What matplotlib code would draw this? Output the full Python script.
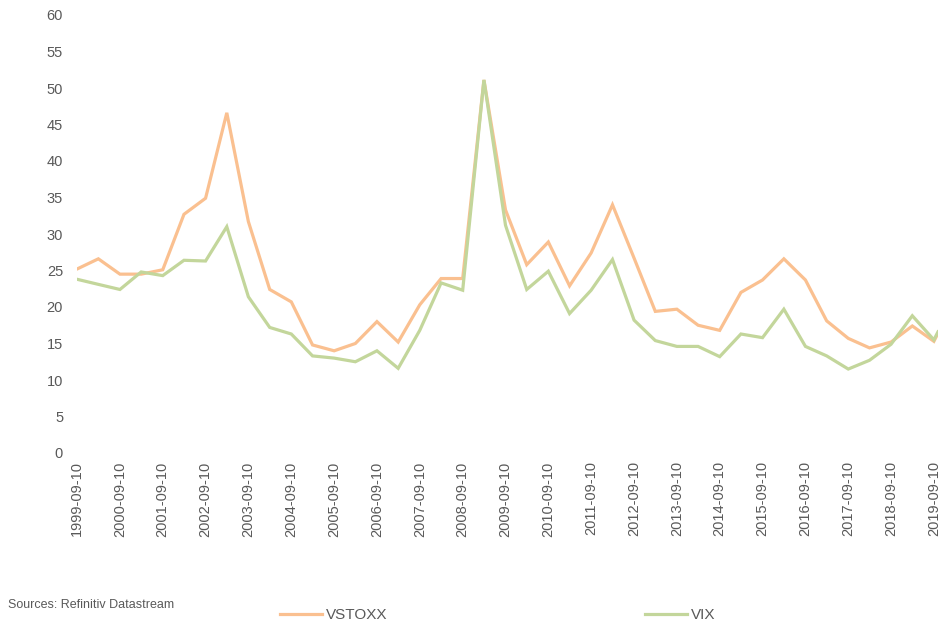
import matplotlib
matplotlib.use('Agg')
import matplotlib.pyplot as plt
import matplotlib.dates as mdates
import numpy as np
import pandas as pd

plt.rcParams['font.family'] = ['Liberation Sans', 'DejaVu Sans']

dates = ['1999-09-10', '2000-03-10', '2000-09-10', '2001-03-10', '2001-09-10',
         '2002-03-10', '2002-09-10', '2003-03-10', '2003-09-10', '2004-03-10',
         '2004-09-10', '2005-03-10', '2005-09-10', '2006-03-10', '2006-09-10',
         '2007-03-10', '2007-09-10', '2008-03-10', '2008-09-10', '2009-03-10',
         '2009-09-10', '2010-03-10', '2010-09-10', '2011-03-10', '2011-09-10',
         '2012-03-10', '2012-09-10', '2013-03-10', '2013-09-10', '2014-03-10',
         '2014-09-10', '2015-03-10', '2015-09-10', '2016-03-10', '2016-09-10',
         '2017-03-10', '2017-09-10', '2018-03-10', '2018-09-10', '2019-03-10',
         '2019-09-10', '2019-10-15']

vstoxx = [25.2, 26.6, 24.5, 24.5, 25.1, 32.7, 34.9, 46.6, 31.7, 22.4,
          20.7, 14.8, 14.0, 15.0, 18.0, 15.2, 20.3, 23.9, 23.9, 51.1,
          33.3, 25.8, 28.9, 22.9, 27.4, 34.0, 26.7, 19.4, 19.7, 17.5,
          16.8, 22.0, 23.7, 26.6, 23.7, 18.1, 15.7, 14.4, 15.2, 17.4,
          15.3, 16.4]

vix = [23.8, 23.1, 22.4, 24.8, 24.3, 26.4, 26.3, 31.0, 21.4, 17.2,
       16.3, 13.3, 13.0, 12.5, 14.0, 11.6, 16.8, 23.3, 22.3, 51.1,
       31.2, 22.4, 24.9, 19.1, 22.3, 26.5, 18.2, 15.4, 14.6, 14.6,
       13.2, 16.3, 15.8, 19.7, 14.6, 13.3, 11.5, 12.7, 14.9, 18.8,
       15.5, 16.6]

tick_dates = ['%d-09-10' % y for y in range(1999, 2020)]
yticks = list(range(0, 61, 5))

x = pd.to_datetime(dates)
text_col = '#595959'

fig = plt.figure(figsize=(9.4, 6.25), dpi=100)
ax = fig.add_axes([77 / 940, 1 - 453 / 625, (938 - 77) / 940, (453 - 15) / 625])

l1, = ax.plot(x, vstoxx, color='#FAC090', lw=2.3, label='VSTOXX', solid_joinstyle='miter')
l2, = ax.plot(x, vix, color='#C3D69B', lw=2.3, label='VIX', solid_joinstyle='miter')

ax.set_ylim(0, 60)
ax.set_yticks(yticks)
ax.set_xlim(x[0], x[-1])
ax.set_xticks(pd.to_datetime(tick_dates))
ax.xaxis.set_major_formatter(mdates.DateFormatter('%Y-%m-%d'))
ax.tick_params(axis='x', rotation=90, length=0, pad=6, labelsize=10.5, colors=text_col)
ax.tick_params(axis='y', length=0, pad=10, labelsize=10.5, colors=text_col)
for s in ax.spines.values():
    s.set_visible(False)

fig.text(8 / 940, 1 - 605 / 625, 'Sources: Refinitiv Datastream', fontsize=9,
         color=text_col, va='center', ha='left')

fig.legend(handles=[l1], loc='center left', bbox_to_anchor=(272 / 940, 1 - 615 / 625),
           frameon=False, fontsize=11, handlelength=2.8, handletextpad=0.2,
           labelcolor=text_col, borderpad=0)
fig.legend(handles=[l2], loc='center left', bbox_to_anchor=(637 / 940, 1 - 615 / 625),
           frameon=False, fontsize=11, handlelength=2.8, handletextpad=0.2,
           labelcolor=text_col, borderpad=0)

fig.savefig('out.png', dpi=100)
